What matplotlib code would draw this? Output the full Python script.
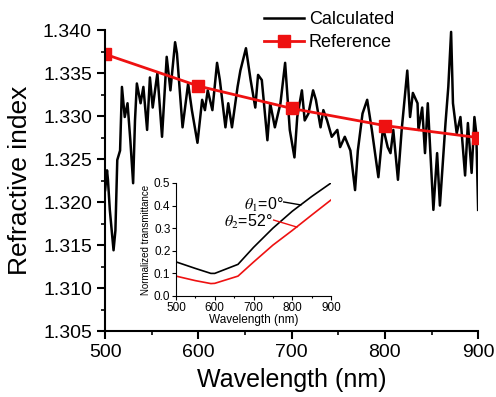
import numpy as np
import matplotlib
matplotlib.use("Agg")
import matplotlib.pyplot as plt
from matplotlib.ticker import MultipleLocator

plt.rcParams['font.family'] = ['Liberation Sans', 'DejaVu Sans']
plt.rcParams['mathtext.fontset'] = 'stix'

# calculated refractive index
calc_wl = [500, 502, 503, 505, 509, 511, 513, 516, 518, 521, 524, 527, 530, 532, 534, 538,
           541, 545, 548, 551, 556, 561, 566, 570, 575, 577, 583, 589, 593, 599, 604, 607,
           610, 615, 620, 623, 629, 632, 636, 642, 645, 651, 656, 661, 664, 668, 674, 677,
           682, 688, 693, 698, 703, 706, 711, 714, 718, 723, 726, 731, 734, 738, 743, 749,
           752, 757, 763, 768, 771, 776, 781, 786, 793, 798, 803, 806, 809, 814, 818, 824,
           827, 830, 835, 836, 840, 843, 846, 852, 856, 859, 865, 868, 871, 873, 877, 881,
           886, 889, 893, 896, 898, 900]
calc_n = [1.3214, 1.3237, 1.3226, 1.3191, 1.3144, 1.3167, 1.3249, 1.3260, 1.3334, 1.3299,
          1.3315, 1.3272, 1.3222, 1.3295, 1.3338, 1.3315, 1.3334, 1.3284, 1.3345, 1.3310,
          1.3350, 1.3276, 1.3369, 1.3330, 1.3386, 1.3373, 1.3287, 1.3338, 1.3307, 1.3269,
          1.3319, 1.3307, 1.3330, 1.3307, 1.3362, 1.3342, 1.3287, 1.3315, 1.3287, 1.3334,
          1.3353, 1.3379, 1.3342, 1.3310, 1.3348, 1.3342, 1.3272, 1.3315, 1.3287, 1.3315,
          1.3362, 1.3284, 1.3252, 1.3299, 1.3330, 1.3295, 1.3303, 1.3330, 1.3319, 1.3287,
          1.3307, 1.3295, 1.3276, 1.3284, 1.3264, 1.3276, 1.3260, 1.3214, 1.3260, 1.3303,
          1.3319, 1.3284, 1.3229, 1.3287, 1.3264, 1.3257, 1.3284, 1.3226, 1.3284, 1.3353,
          1.3299, 1.3327, 1.3315, 1.3284, 1.3310, 1.3257, 1.3315, 1.3191, 1.3257, 1.3196,
          1.3292, 1.3334, 1.3398, 1.3315, 1.3280, 1.3299, 1.3231, 1.3292, 1.3234, 1.3299,
          1.3280, 1.3191]

# reference refractive index
ref_wl = [500, 600, 700, 800, 900]
ref_n = [1.3372, 1.3335, 1.3309, 1.3289, 1.3275]

# inset: normalized transmittance
ins_wl = [500, 550, 590, 600, 660, 700, 750, 800, 850, 900]
t_theta1 = [0.151, 0.122, 0.100, 0.100, 0.140, 0.215, 0.300, 0.375, 0.440, 0.500]
t_theta2 = [0.088, 0.068, 0.055, 0.056, 0.088, 0.150, 0.225, 0.290, 0.358, 0.425]

fig = plt.figure(figsize=(4.96, 3.97), dpi=100)
ax = fig.add_axes([0.212, 0.166, 0.752, 0.758])

ax.plot(calc_wl, calc_n, color='black', lw=1.8, label='Calculated')
ax.plot(ref_wl, ref_n, color='#ee1111', lw=2, marker='s', ms=8, label='Reference')

ax.set_xlim(500, 900)
ax.set_ylim(1.305, 1.340)
ax.xaxis.set_major_locator(MultipleLocator(100))
ax.xaxis.set_minor_locator(MultipleLocator(50))
ax.yaxis.set_major_locator(MultipleLocator(0.005))
ax.yaxis.set_minor_locator(MultipleLocator(0.0025))
ax.yaxis.set_major_formatter(matplotlib.ticker.FormatStrFormatter('%.3f'))
for s in ['top', 'right']:
    ax.spines[s].set_visible(False)
for s in ['left', 'bottom']:
    ax.spines[s].set_linewidth(1.5)
ax.tick_params(which='major', length=6, width=1.5, labelsize=14, direction='out')
ax.tick_params(which='minor', length=3, width=1.2, direction='out')
ax.set_xlabel('Wavelength (nm)', fontsize=18, labelpad=5)
ax.set_ylabel('Refractive index', fontsize=19, labelpad=8)

ax.legend(loc='upper left', bbox_to_anchor=(0.51, 1.0), bbox_transform=fig.transFigure,
          frameon=False, fontsize=13, handlelength=2.2, handletextpad=0.3,
          borderpad=0.1, labelspacing=0.35)

# inset
ins = fig.add_axes([176 / 496, 1 - 296 / 397, 155 / 496, 113 / 397])
ins.patch.set_alpha(0)
ins.plot(ins_wl, t_theta1, color='black', lw=1.2)
ins.plot(ins_wl, t_theta2, color='#ee1111', lw=1.2)
ins.set_xlim(500, 900)
ins.set_ylim(0, 0.5)
ins.xaxis.set_major_locator(MultipleLocator(100))
ins.xaxis.set_minor_locator(MultipleLocator(50))
ins.yaxis.set_major_locator(MultipleLocator(0.1))
ins.yaxis.set_major_formatter(matplotlib.ticker.FormatStrFormatter('%.1f'))
for s in ['top', 'right']:
    ins.spines[s].set_visible(False)
ins.tick_params(which='major', length=3, width=0.8, labelsize=8.5, pad=1)
ins.tick_params(which='minor', length=1.5, width=0.8)
ins.set_xlabel('Wavelength (nm)', fontsize=8.5, labelpad=0)
ins.set_ylabel('Normalized transmittance', fontsize=7, labelpad=2)

ins.text(777, 0.405, r'$\theta_1$=0°', fontsize=11.5, ha='right', va='center')
ins.plot([778, 822], [0.416, 0.403], color='black', lw=1)
ins.text(750, 0.328, r'$\theta_2$=52°', fontsize=11.5, ha='right', va='center')
ins.plot([752, 812], [0.336, 0.305], color='#ee1111', lw=1)

fig.savefig('out.png', dpi=100)
